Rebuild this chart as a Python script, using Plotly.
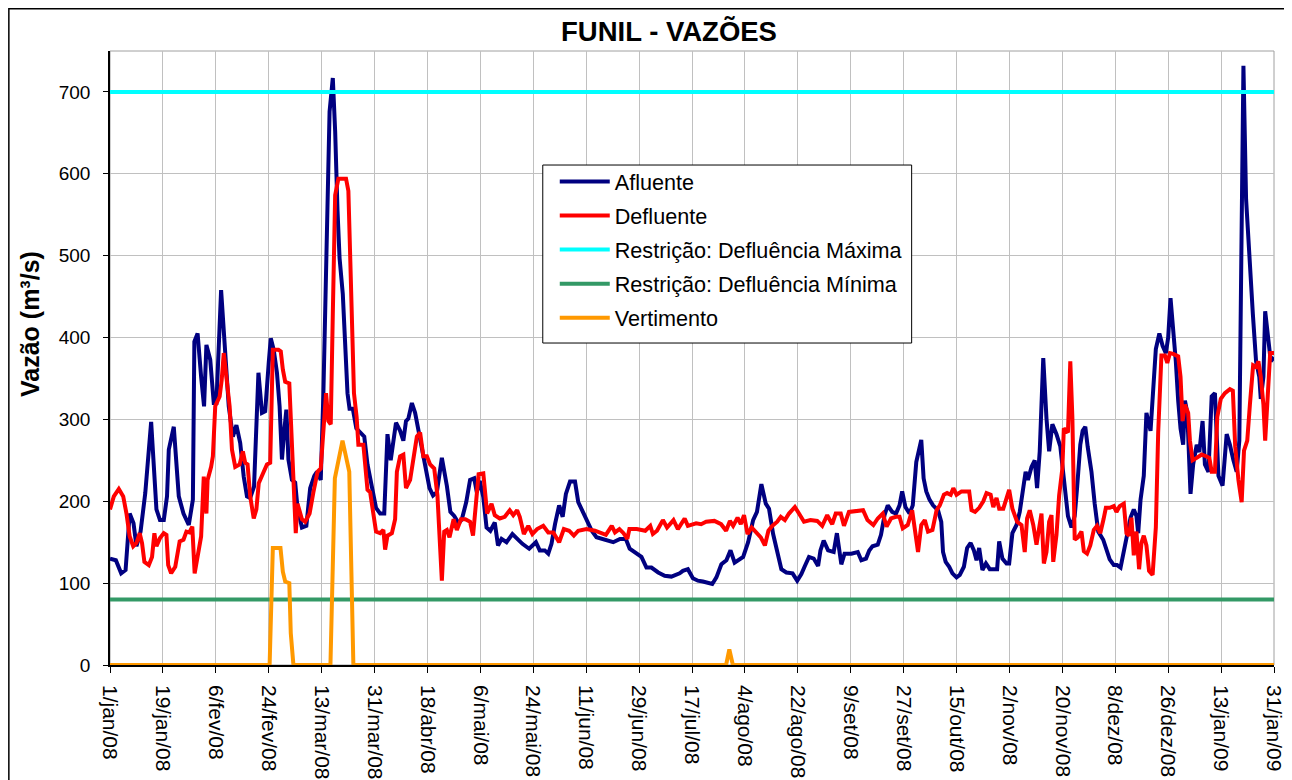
import plotly.graph_objects as go

# x = dias desde 1/jan/08
tick_labels = ["1/jan/08", "19/jan/08", "6/fev/08", "24/fev/08", "13/mar/08", "31/mar/08",
               "18/abr/08", "6/mai/08", "24/mai/08", "11/jun/08", "29/jun/08", "17/jul/08",
               "4/ago/08", "22/ago/08", "9/set/08", "27/set/08", "15/out/08", "2/nov/08",
               "20/nov/08", "8/dez/08", "26/dez/08", "13/jan/09", "31/jan/09"]
tick_days = [18 * i for i in range(len(tick_labels))]

afl_dia = [0, 2, 3.8, 5.3, 6.7, 8, 9, 10.4, 12, 14, 15.8, 17, 18.3, 19.4, 20, 21.7, 23.4, 25, 26.8, 28.2,
           28.7, 29.8, 31, 32, 32.8, 34.1, 35.3, 36.2, 37.8, 39.2, 40.4, 41.8, 43, 44.3, 45.5, 46.6, 47.7, 49,
           50.5, 51.7, 52.8, 54, 54.7, 55.7, 56.8, 57.7, 58.5, 59.3, 60, 60.7, 61.9, 63, 63.8, 65.3, 66.8,
           68.1, 69.5, 70.4, 71.7, 72.6, 73.8, 74.7, 75.8, 76.6, 77.4, 78.1, 79.2, 80, 80.8, 81.5, 82.6, 83.8,
           85.1, 86.5, 87.6, 89.1, 90.5, 91.9, 93.3, 94.4, 95.5, 97.3, 98.7, 99.8, 100.7, 101.5, 102.7, 103.8,
           105, 106.1, 107.2, 108.7, 109.9, 111.2, 112.9, 114.6, 115.8, 117.1, 118.6, 119.7, 121.2, 122.5,
           123.9, 124.8, 125.8, 127, 128.1, 129.4, 130.9, 132, 133.2, 134.9, 136.9, 138.5, 140.3, 142.6, 144.9,
           146.2, 147.9, 149.1, 150.2, 151.4, 152.8, 154, 155.1, 156.5, 158.2, 159.3, 161, 162.7, 163.9, 165.5,
           167.2, 168.9, 171.2, 173.5, 175.5, 176.8, 178.5, 180.8, 182.5, 184.2, 186.5, 188.7, 191, 193.8,
           194.9, 196.6, 198.3, 200, 201.7, 203.4, 204.9, 206.3, 208, 209.7, 211.1, 212.5, 214.2, 215.4, 217.1,
           218.8, 220.1, 221.6, 223.1, 224.2, 225.6, 226.9, 228.4, 230.1, 232.2, 233.8, 235.2, 236.4, 237.8,
           239.4, 240.9, 241.7, 242.8, 244.3, 246.2, 247.3, 248.8, 249.9, 252.2, 254.4, 255.6, 257.2, 258.3,
           259.4, 261.2, 262.3, 263.5, 264.6, 266.1, 267.4, 268.6, 269.5, 270.6, 272, 273.1, 274.3, 275.2, 276,
           276.8, 277.7, 278.8, 280, 281.7, 282.8, 283.4, 284.3, 285.5, 286.6, 288, 289.1, 290.5, 291.6, 292.8,
           293.9, 294.8, 295.7, 296.8, 298, 299.3, 301.8, 302.5, 303.6, 305, 305.9, 307, 308.4, 309.5, 310.6,
           311.5, 312.3, 313.5, 314.6, 315.4, 316.3, 317.5, 318.6, 319.5, 320.6, 322, 323.3, 324.2, 325.1,
           325.9, 327.1, 328.2, 329, 330.1, 330.9, 331.8, 332.6, 333.9, 335, 336.2, 337.9, 339, 340.1, 341.5,
           342.6, 343.8, 344.9, 346, 347.2, 348.3, 349.2, 349.8, 350.6, 351.7, 352.6, 354, 354.9, 355.8, 357,
           358.1, 359.2, 360, 360.8, 361.7, 362.6, 363.4, 364.2, 365.1, 365.7, 366.5, 367.6, 368.5, 369.7,
           370.6, 371.7, 372.5, 373.7, 374.8, 375.9, 377.1, 378.5, 379.9, 381, 382.2, 383.3, 384.2, 385, 385.6,
           386.5, 387.6, 388.8, 389.9, 391, 391.5, 392.4, 393, 394.1, 394.9, 396]
afl_vazao = [130, 128, 112, 116, 185, 173, 145, 163, 210, 297, 190, 177, 177, 206, 263, 291, 206, 185, 171, 202,
             395, 405, 352, 316, 391, 373, 320, 320, 458, 389, 316, 279, 293, 271, 230, 206, 204, 218,
             357, 308, 310, 369, 399, 385, 357, 316, 251, 287, 312, 251, 226, 223, 192, 168, 170,
             216, 231, 236, 226, 332, 521, 676, 717, 652, 555, 497, 453, 400, 332, 313, 313, 289,
             284, 279, 245, 216, 192, 185, 185, 282, 250, 296, 286, 274, 298, 301, 320, 308,
             286, 265, 240, 216, 207, 211, 253, 219, 187, 182, 173, 178, 199, 226,
             228, 211, 225, 205, 168, 164, 174, 146, 154, 150, 160, 154, 148, 142, 150,
             140, 140, 136, 148, 172, 195, 181, 209, 224, 224, 199, 185, 174, 164, 156,
             154, 152, 150, 154, 154, 142, 138, 132, 119, 119, 113, 109, 108, 112,
             115, 117, 106, 103, 102, 101, 99, 107, 123, 128, 140, 125, 130, 132, 150,
             177, 187, 221, 197, 191, 160, 138, 117, 113, 112, 103, 111, 121, 132,
             130, 121, 140, 152, 140, 138, 161, 123, 136, 136, 138, 128, 130, 140,
             145, 147, 159, 183, 195, 187, 185, 195, 212, 193, 185, 195, 248, 265, 275,
             228, 212, 202, 195, 189, 175, 138, 126, 120, 112, 107, 110, 120, 143, 149,
             140, 128, 143, 116, 124, 117, 117, 151, 130, 124, 124, 161, 171, 187, 212,
             236, 226, 242, 250, 216, 261, 375, 301, 261, 294, 282, 267, 240, 207,
             182, 168, 182, 216, 269, 286, 291, 267, 236, 197, 163, 153, 139, 129, 122,
             122, 119, 139, 158, 180, 190, 182, 161, 202, 231, 308, 286, 337, 386, 405,
             390, 381, 400, 448, 410, 371, 323, 289, 269, 323, 308, 209, 245, 269,
             260, 298, 245, 236, 328, 332, 231, 219, 282, 269, 250, 236, 274, 594, 732,
             569, 497, 429, 371, 352, 325, 352, 432, 390, 371, 376]

def_dia = [0, 1.3, 3, 4.5, 5.6, 6.7, 7.9, 9, 10.1, 10.9, 11.7, 13.2, 14.3, 15.1, 15.8, 17, 18.3, 19.2, 19.8,
           20.8, 22.2, 23.7, 25, 26, 27, 28, 28.8, 29.8, 31, 31.9, 32.8, 33.2, 34.4, 35, 35.8, 37.3, 38, 38.7,
           39.8, 40.7, 41.5, 42.6, 44.1, 45.2, 46, 46.8, 47.7, 48.9, 49.8, 50.6, 52.3, 53.4, 54.5, 55.4, 57.3,
           58.1, 58.8, 59.6, 61, 61.9, 62.8, 63.2, 63.8, 65.3, 66.4, 67.9, 69.2, 70.6, 71.7, 72.6, 73.5, 74.3,
           75.1, 75.8, 76.6, 77.7, 80.3, 81.1, 82.2, 83, 83.9, 84.5, 86.2, 87.6, 88.5, 89.4, 90.5, 91.9, 93,
           93.6, 94.4, 95.9, 97, 97.6, 98.7, 99.8, 100.7, 102.1, 103.2, 104.4, 105.5, 106.6, 107.8, 108.9,
           110.3, 111.4, 112.1, 112.9, 113.7, 114.6, 115.5, 116.9, 118, 119.4, 120.9, 122.5, 123.5, 124.3,
           125.4, 127, 128.3, 129.8, 130.9, 132.6, 134.3, 136, 137.2, 138.5, 139.4, 140.8, 142.3, 143.7, 145.3,
           147.4, 149.1, 150.8, 152.8, 154.4, 156.2, 157.8, 159.3, 162.1, 165, 168.7, 170.7, 171.8, 173.3,
           174.7, 176, 176.7, 179.2, 182.1, 183.8, 184.7, 186.1, 188.1, 189.5, 191.7, 193.2, 195.5, 196.6,
           199.4, 201.1, 202.8, 205.6, 207.9, 209.6, 210.9, 212, 213.5, 214.6, 215.7, 216.9, 218.3, 219.9,
           221.4, 222.8, 224, 225.3, 227, 228.2, 229.6, 231, 233, 234.4, 236.1, 238.3, 240.6, 242.3, 244,
           245.7, 246.9, 248.6, 249.7, 251.4, 254.3, 256.2, 257.7, 259.7, 261.2, 262.9, 264.2, 265.7,
           267.4, 268.6, 269.7, 271.4, 272.9, 274.1, 274.9, 276, 277.2, 278.3, 279.8, 281.2, 282.3, 283.7,
           284.8, 286, 286.9, 288, 289.7, 292.3, 293.1, 294.3, 295.7, 297.1, 298.2, 299.6, 300.5, 301.6, 302.5,
           303.9, 305, 305.9, 307, 308.6, 310.1, 311.2, 312, 312.9, 314.1, 315.2, 316.9, 317.7, 318.6, 319.5,
           320.3, 320.9, 322, 322.9, 324, 324.5, 325.9, 326.7, 327.4, 328.2, 329.3, 330.5, 331.3, 332.4, 333.5,
           334.7, 335.8, 336.9, 338, 338.8, 340.1, 341.5, 342.4, 343.5, 344.9, 345.8, 346.7, 347.5, 348.3,
           349.2, 350.1, 350.9, 351.7, 352.6, 353.5, 354.7, 355.8, 356.6, 357.7, 358.9, 359.7, 360.6, 361.7,
           363.4, 364.2, 364.9, 365.7, 366.8, 367.4, 368.3, 369.7, 371.4, 372.9, 374, 374.8, 375.9, 376.7,
           377.9, 379.3, 381, 382, 382.8, 383.9, 385, 385.8, 386.9, 387.8, 388.9, 389.9, 390.7, 391.5, 392.4,
           393, 393.8, 394.7, 396]
def_vazao = [190, 206, 215, 206, 185, 157, 145, 149, 161, 149, 126, 122, 132, 161, 145, 155, 161, 159, 122,
             112, 120, 151, 153, 163, 162, 169, 112, 132, 157, 230, 185, 226, 242, 255, 316, 328, 348, 381,
             348, 316, 263, 242, 245, 261, 247, 245, 206, 179, 190, 222, 236, 245, 247, 385, 385,
             383, 361, 346, 344, 279, 206, 161, 197, 178, 175, 185, 211, 236, 240, 284, 332, 298,
             294, 429, 574, 594, 594, 579, 439, 332, 303, 269, 269, 214, 211, 187, 163, 161, 165,
             141, 158, 161, 178, 236, 255, 257, 216, 226, 250, 279, 284, 255, 255, 245,
             240, 207, 158, 103, 163, 165, 156, 178, 165, 178, 178, 175, 158, 192,
             233, 234, 185, 197, 183, 179, 181, 189, 183, 189, 181, 160, 170, 160, 166,
             170, 162, 162, 150, 166, 164, 158, 164, 166, 164, 159, 170, 162, 166,
             161, 154, 166, 166, 164, 170, 160, 164, 177, 168, 177, 166, 179, 170,
             173, 172, 175, 176, 172, 164, 176, 170, 180, 172, 183, 160, 168, 162,
             156, 146, 164, 170, 175, 181, 177, 185, 193, 185, 175, 177, 176, 170, 183,
             172, 185, 185, 170, 187, 188, 189, 177, 171, 179, 185, 169, 179,
             181, 181, 167, 171, 189, 155, 138, 171, 177, 163, 165, 189, 195, 208,
             210, 208, 216, 208, 212, 212, 189, 187, 192, 200, 210, 208, 193, 204, 191,
             191, 204, 214, 191, 175, 171, 138, 179, 189, 171, 147, 185, 124, 138, 175,
             183, 126, 159, 207, 240, 289, 284, 371, 303, 153, 156, 163, 139, 136, 146,
             165, 170, 161, 178, 192, 192, 194, 187, 194, 197, 161, 158, 180, 134,
             163, 117, 149, 158, 146, 115, 110, 168, 284, 378, 378, 369, 381, 380,
             377, 352, 298, 318, 308, 274, 250, 253, 257, 255, 253, 236, 236, 303,
             325, 332, 337, 335, 267, 226, 199, 262, 274, 318, 366, 364, 371, 352, 318,
             274, 323, 381, 381]

rest_dia = [0, 396]
rest_max = [700, 700]
rest_min = [80, 80]

vert_dia = [0, 54.3, 55.4, 58, 58.8, 59.6, 61, 61.5, 62.4, 75, 76.5, 79.1, 81.4, 82.8, 209.6, 210.7, 211.9, 396]
vert_vazao = [0, 0, 143, 143, 114, 102, 100, 39, 0, 0, 228, 274, 236, 0, 0, 19, 0, 0]

FONT = "Liberation Sans, Arial, sans-serif"

fig = go.Figure()
series = [
    ("Afluente", afl_dia, afl_vazao, "#000080", 4),
    ("Defluente", def_dia, def_vazao, "#FF0000", 4),
    ("Restrição: Defluência Máxima", rest_dia, rest_max, "#00FFFF", 4),
    ("Restrição: Defluência Mínima", rest_dia, rest_min, "#339966", 4),
    ("Vertimento", vert_dia, vert_vazao, "#FF9900", 4),
]
for i, (name, xs, ys, color, w) in enumerate(series):
    fig.add_trace(go.Scatter(x=xs, y=ys, name=name, mode="lines",
                             line=dict(color=color, width=w),
                             legendgroup=f"g{i}"))

# page body has an 8px margin: figure is 1284x772 placed at (8, 8)
fig.update_layout(
    width=1284, height=772,
    margin=dict(l=102, r=17.5, t=43, b=115, autoexpand=False),
    paper_bgcolor="white", plot_bgcolor="white",
    font=dict(family=FONT, color="black", size=19),
    title=dict(text="<b>FUNIL - VAZÕES</b>", x=0.5148, xanchor="center",
               y=0.970, yanchor="middle", font=dict(size=27.5, family=FONT)),
    showlegend=True,
    legend=dict(x=0.3821, y=0.821, xanchor="left", yanchor="top",
                bgcolor="rgba(0,0,0,0)", borderwidth=0,
                font=dict(size=21.6, family=FONT), tracegroupgap=3,
                traceorder="grouped", itemwidth=50),
    shapes=[
        dict(type="rect", xref="paper", yref="paper", x0=0, x1=1, y0=0, y1=1,
             line=dict(color="#A0A0A0", width=1), layer="below"),
        dict(type="rect", xref="paper", yref="paper", x0=-0.0869, x1=1.0107, y0=-0.2166, y1=1.0688,
             line=dict(color="black", width=1.5), layer="below"),
        dict(type="rect", xref="paper", yref="paper", x0=0.3718, x1=0.6887, y0=0.5244, y1=0.8143,
             line=dict(color="black", width=1), fillcolor="white", layer="above"),
    ],
    annotations=[
        dict(text="<b>Vazão (m³/s)</b>", xref="paper", yref="paper", x=-0.0687, y=0.5554,
             xanchor="center", yanchor="middle", textangle=-90, showarrow=False,
             font=dict(size=25, family=FONT, color="black")),
    ],
)
fig.update_xaxes(range=[0, 396], tickvals=tick_days, ticktext=tick_labels, tickangle=90,
                 showgrid=True, gridcolor="#C0C0C0", gridwidth=1,
                 showline=True, linecolor="black", linewidth=1.5,
                 ticks="outside", ticklen=6, tickcolor="black", ticklabelstandoff=8,
                 tickfont=dict(size=21), zeroline=False, automargin=False)
fig.update_yaxes(range=[0, 750], tickvals=[0, 100, 200, 300, 400, 500, 600, 700],
                 showgrid=True, gridcolor="#C0C0C0", gridwidth=1,
                 showline=True, linecolor="black", linewidth=1.5,
                 ticks="outside", ticklen=5, tickcolor="black", ticklabelstandoff=9,
                 tickfont=dict(size=19), zeroline=False, automargin=False)

fig.write_html("out.html")
